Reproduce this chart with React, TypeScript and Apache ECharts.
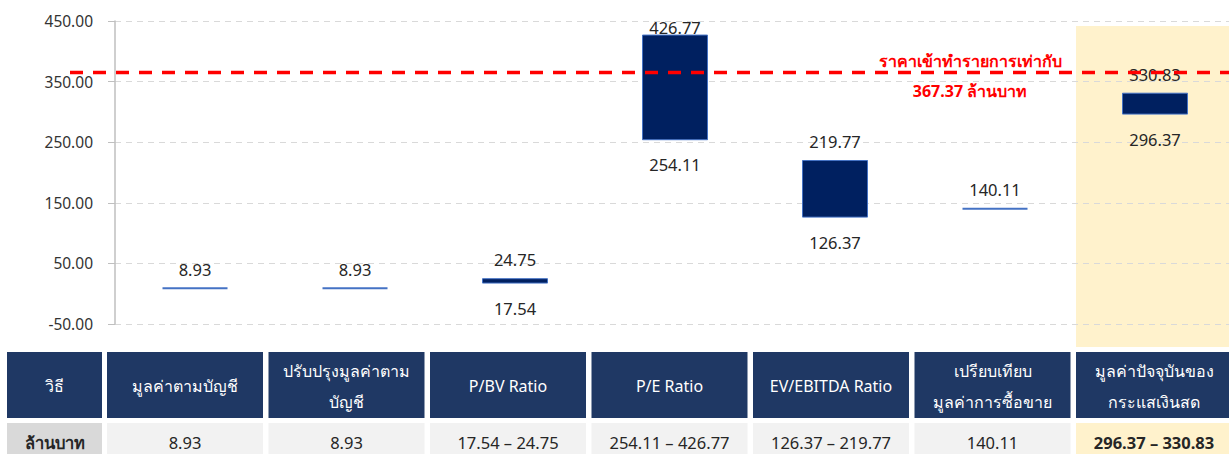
import React, { useEffect, useRef } from "react";
import * as echarts from "echarts";

const methods = [
  "มูลค่าตามบัญชี",
  "ปรับปรุงมูลค่าตาม\nบัญชี",
  "P/BV Ratio",
  "P/E Ratio",
  "EV/EBITDA Ratio",
  "เปรียบเทียบ\nมูลค่าการซื้อขาย",
  "มูลค่าปัจจุบันของ\nกระแสเงินสด",
];
const lows = [8.93, 8.93, 17.54, 254.11, 126.37, 140.11, 296.37];
const highs = [8.93, 8.93, 24.75, 426.77, 219.77, 140.11, 330.83];
const yTicks = [-50, 50, 150, 250, 350, 450];
const dealPrice = 367.37;
const headerLabel = "วิธี";
const unitLabel = "ล้านบาท";
const noteLine1 = "ราคาเข้าทำรายการเท่ากับ";
const noteLine2 = `${dealPrice.toFixed(2)} ล้านบาท`;

const FONT = 'Tahoma, "Noto Sans", "DejaVu Sans", sans-serif';
const fmt = (v: number) => v.toFixed(2);

export default function App() {
  const ref = useRef<HTMLDivElement>(null);
  useEffect(() => {
    if (!ref.current) return;
    const chart = echarts.init(ref.current, undefined, { renderer: "svg" });
    const data = lows.map((lo, i) => [i, lo, highs[i]]);
    chart.setOption({
      animation: false,
      grid: { left: 115, top: 21, width: 1120, height: 303, outerBoundsMode: "none", containLabel: false },
      xAxis: {
        type: "category",
        data: methods.map((_, i) => String(i)),
        axisLine: { show: false },
        axisTick: { show: false },
        axisLabel: { show: false },
        splitLine: { show: false },
      },
      yAxis: {
        type: "value",
        min: yTicks[0],
        max: yTicks[yTicks.length - 1],
        interval: yTicks[1] - yTicks[0],
        axisLine: { show: true, lineStyle: { color: "#bfbfbf", width: 1.5 } },
        axisTick: { show: true, length: 7, lineStyle: { color: "#bfbfbf" } },
        axisLabel: {
          formatter: (v: number) => fmt(v),
          fontSize: 15.5,
          color: "#333",
          fontFamily: FONT,
          margin: 22,
        },
        splitLine: { show: true, lineStyle: { color: "#d9d9d9", type: [6, 5] } },
      },
      series: [
        {
          type: "custom",
          z: 5,
          data,
          renderItem: (params: any, api: any) => {
            const i = api.value(0);
            const lo = api.value(1);
            const hi = api.value(2);
            const pLo = api.coord([i, lo]);
            const pHi = api.coord([i, hi]);
            const w = 65;
            const children: any[] = [];
            if (Math.abs(pLo[1] - pHi[1]) < 1) {
              children.push({
                type: "line",
                shape: { x1: pLo[0] - w / 2, y1: pLo[1], x2: pLo[0] + w / 2, y2: pLo[1] },
                style: { stroke: "#4472c4", lineWidth: 2 },
              });
            } else {
              children.push({
                type: "rect",
                shape: { x: pHi[0] - w / 2, y: pHi[1], width: w, height: pLo[1] - pHi[1] },
                style: { fill: "#002060", stroke: "#4472c4", lineWidth: 1 },
              });
            }
            children.push({
              type: "text",
              x: pHi[0],
              y: Math.max(pHi[1] - 19, 27),
              style: {
                text: fmt(hi),
                align: "center",
                verticalAlign: "middle",
                fontSize: 16.5,
                fill: "#262626",
                fontFamily: FONT,
              },
            });
            if (hi !== lo) {
              children.push({
                type: "text",
                x: pLo[0],
                y: pLo[1] + 25,
                style: {
                  text: fmt(lo),
                  align: "center",
                  verticalAlign: "middle",
                  fontSize: 16.5,
                  fill: "#262626",
                  fontFamily: FONT,
                },
              });
            }
            return { type: "group", children };
          },
        },
      ],
    });

    const yLine = chart.convertToPixel({ yAxisIndex: 0 }, dealPrice) as number;
    const lastX = chart.convertToPixel({ xAxisIndex: 0 }, String(methods.length - 1)) as number;
    const graphics: any[] = [];
    graphics.push({
      type: "rect",
      z: -10,
      shape: { x: lastX - 79, y: 26, width: 160, height: 321 },
      style: { fill: "#fff2cc" },
    });
    graphics.push({
      type: "line",
      z: 100,
      shape: { x1: 70, y1: yLine + 1.5, x2: 1229, y2: yLine + 1.5 },
      style: { stroke: "#ff0000", lineWidth: 3.5, lineDash: [13, 10] },
    });
    graphics.push({
      type: "text",
      z: 100,
      x: 970,
      y: yLine - 10,
      style: {
        text: noteLine1,
        align: "center",
        verticalAlign: "middle",
        fontSize: 16,
        fontWeight: "bold",
        fill: "#ff0000",
        fontFamily: FONT,
      },
    });
    graphics.push({
      type: "text",
      z: 100,
      x: 970,
      y: yLine + 20,
      style: {
        text: noteLine2,
        align: "center",
        verticalAlign: "middle",
        fontSize: 16,
        fontWeight: "bold",
        fill: "#ff0000",
        fontFamily: FONT,
      },
    });

    // table
    const hTop = 352;
    const hH = 66;
    const rTop = 423;
    const rH = 40;
    const cols: { x: number; w: number }[] = [{ x: 7, w: 95 }];
    methods.forEach((_, k) => cols.push({ x: 107 + k * 161.5, w: 156 }));
    const headers = [headerLabel, ...methods];
    const values = [
      unitLabel,
      ...lows.map((lo, i) => (lo === highs[i] ? fmt(lo) : `${fmt(lo)} – ${fmt(highs[i])}`)),
    ];
    cols.forEach((c, k) => {
      graphics.push({
        type: "rect",
        shape: { x: c.x, y: hTop, width: c.w, height: hH },
        style: { fill: "#1f3864" },
      });
      graphics.push({
        type: "text",
        x: c.x + c.w / 2,
        y: hTop + hH / 2 + 1,
        style: {
          text: headers[k],
          align: "center",
          verticalAlign: "middle",
          fontSize: 16,
          lineHeight: 31,
          fill: "#ffffff",
          fontFamily: FONT,
        },
      });
      const isFirst = k === 0;
      const isLast = k === cols.length - 1;
      graphics.push({
        type: "rect",
        shape: { x: c.x, y: rTop, width: c.w, height: rH },
        style: { fill: isFirst ? "#d9d9d9" : isLast ? "#fff2cc" : "#f2f2f2" },
      });
      graphics.push({
        type: "text",
        x: c.x + c.w / 2,
        y: rTop + 19,
        style: {
          text: values[k],
          align: "center",
          verticalAlign: "middle",
          fontSize: 16.5,
          fontWeight: isFirst || isLast ? "bold" : "normal",
          fill: "#262626",
          fontFamily: FONT,
        },
      });
    });
    chart.setOption({ graphic: graphics });

    return () => chart.dispose();
  }, []);
  return (
    <div
      ref={ref}
      style={{ position: "absolute", left: 0, top: 0, width: 1229, height: 454 }}
    />
  );
}
